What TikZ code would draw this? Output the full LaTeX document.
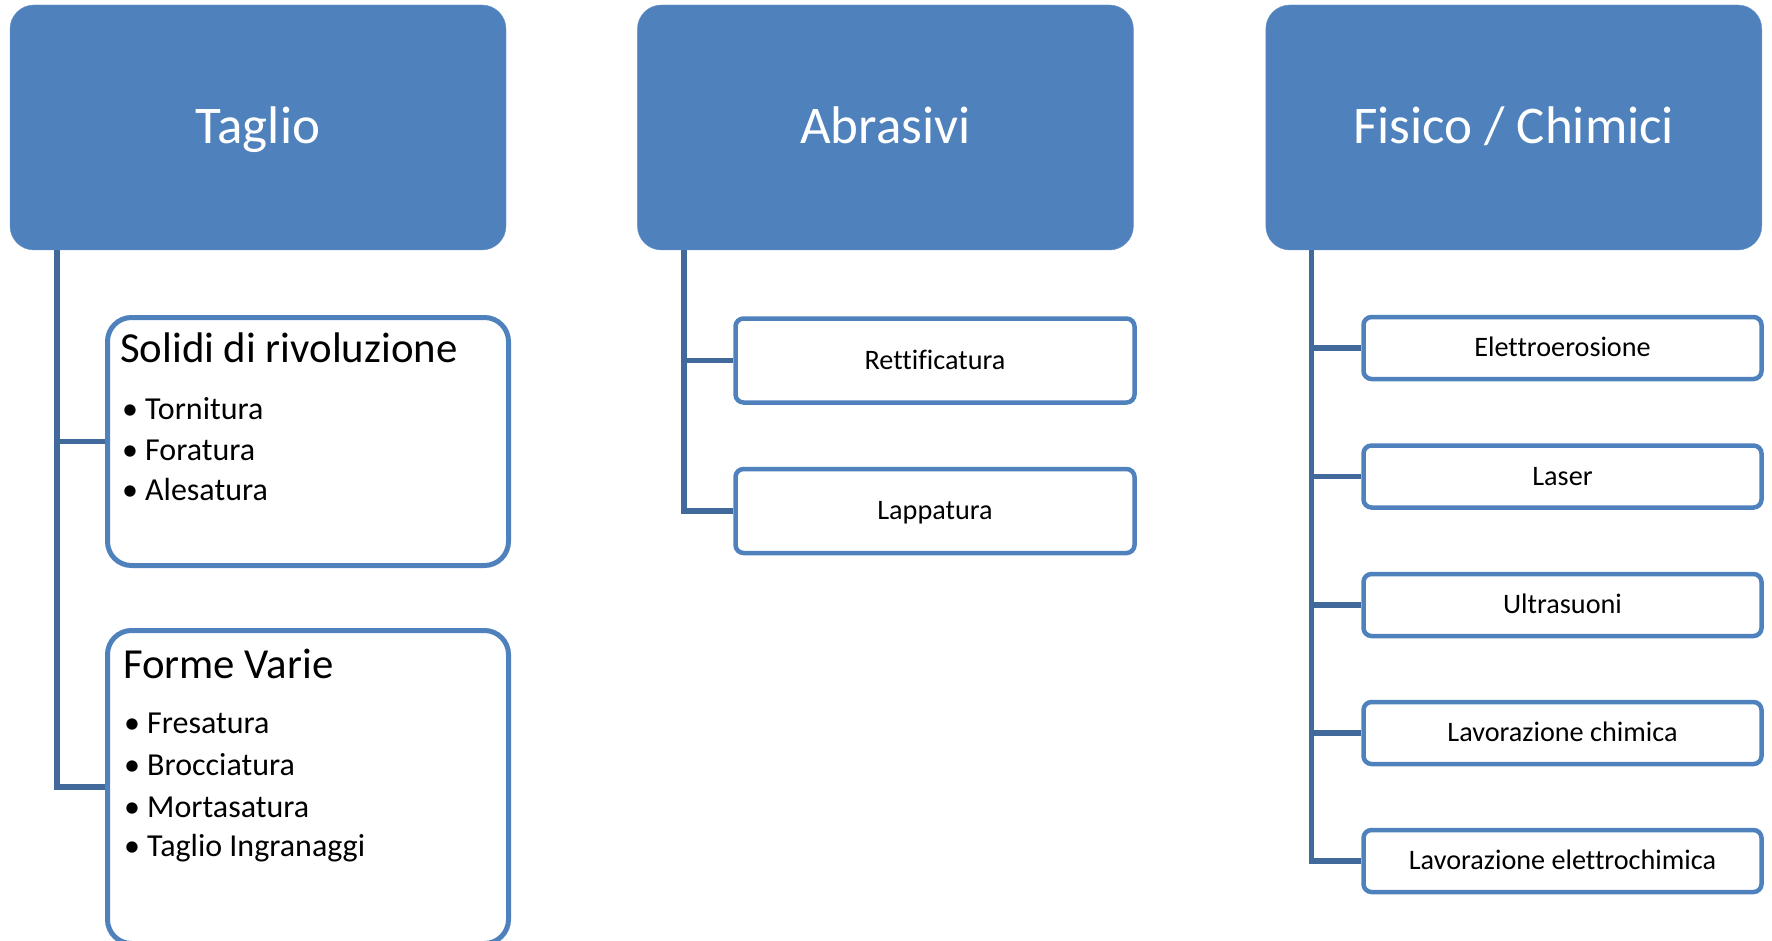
\documentclass[tikz,border=0pt]{standalone}
\usepackage{fontspec}
\setmainfont{Carlito}[Ligatures=NoCommon]
\usetikzlibrary{positioning}
\definecolor{BoxBlue}{HTML}{4F81BD}
\definecolor{LinkBlue}{HTML}{41699C}

\begin{document}
\begin{tikzpicture}[x=1pt, y=-1pt,
  head/.style={fill=BoxBlue, draw=BoxBlue!85!white, rounded corners=24pt, minimum width=496pt, minimum height=245pt, inner sep=0pt, text=white, text height=33pt, text depth=0pt, font=\fontsize{53}{60}\selectfont},
  group/.style={draw=BoxBlue, line width=5pt, fill=white, rounded corners=24pt, minimum width=401pt, inner sep=0pt},
  leaf/.style={draw=BoxBlue, line width=4.5pt, fill=white, rounded corners=8pt, minimum width=399pt, inner sep=0pt, text height=17pt, text depth=0pt, font=\fontsize{28.2}{33}\selectfont},
  grouptitle/.style={anchor=base west, inner sep=0pt, font=\fontsize{42.8}{50}\selectfont},
  item/.style={anchor=base west, inner sep=0pt, font=\fontsize{32}{38}\selectfont},
  link/.style={draw=LinkBlue, line width=5.5pt}
]
  \useasboundingbox (0,0) rectangle (1772,941);

  % top row
  \node[head] (tag) at (258,127.5) {Taglio};
  \node[head, right=131pt of tag] (abr) {Abrasivi};
  \node[head, right=132pt of abr] (fis) {Fisico / Chimici};

  % Taglio
  \node[group, minimum height=248pt] (sol) at (308,441.5) {};
  \node[group, minimum height=313pt] (frm) at (308,787) {};
  \node[grouptitle] (solt) at (120,362) {Solidi di rivoluzione};
  \foreach \name/\ypos/\txt in {tor/419/Tornitura, fora/460/Foratura, ale/500/Alesatura}
    \node[item] (\name) at (122,\ypos) {\makebox[23pt][l]{\textbullet}\txt};
  \node[grouptitle] (frmt) at (123,678) {Forme Varie};
  \foreach \name/\ypos/\txt in {fres/733/Fresatura, broc/775/Brocciatura, mort/817/Mortasatura, ingr/856/Taglio Ingranaggi}
    \node[item] (\name) at (124,\ypos) {\makebox[23pt][l]{\textbullet}\txt};

  % Abrasivi
  \node[leaf, minimum height=84pt] (ret) at (935,360.5) {Rettificatura};
  \node[leaf, minimum height=84pt] (lap) at (935,511) {Lappatura};

  % Fisico / Chimici
  \foreach \name/\ypos/\txt in {ele/348/Elettroerosione, las/476.5/Laser, ult/605/Ultrasuoni, chi/733/Lavorazione chimica, ech/861/Lavorazione elettrochimica}
    \node[leaf, minimum height=62pt, minimum width=398pt] (\name) at (1562.5,\ypos) {\txt};

  % connectors
  \draw[link] ([xshift=47pt]tag.south west) |- (sol.west);
  \draw[link] ([xshift=47pt]tag.south west) |- (frm.west);
  \draw[link] ([xshift=47pt]abr.south west) |- (ret.west);
  \draw[link] ([xshift=47pt]abr.south west) |- (lap.west);
  \foreach \name in {ele,las,ult,chi,ech}
    \draw[link] ([xshift=46pt]fis.south west) |- (\name.west);
\end{tikzpicture}
\end{document}
